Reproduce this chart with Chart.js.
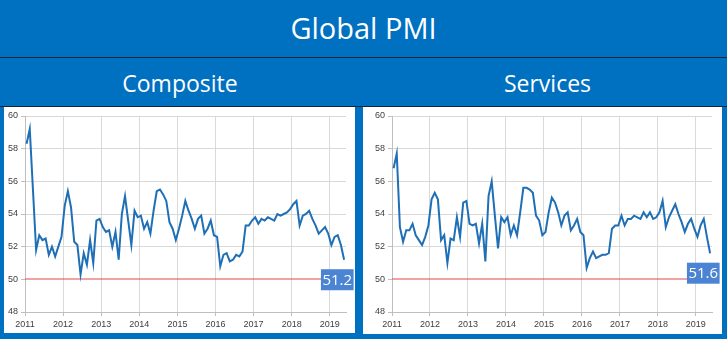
<!DOCTYPE html>
<html>
<head>
<meta charset="UTF-8">
<title>Global PMI</title>
<script src="https://cdn.jsdelivr.net/npm/chart.js"></script>
<style>
  body { margin: 0; width: 727px; height: 339px; background: #0070c0; position: relative; overflow: hidden; font-family: 'Open Sans', sans-serif; }
  .title { position: absolute; left: 0; top: 0; width: 727px; height: 57px; line-height: 56px; text-align: center; color: #fff; font-size: 29px; }
  .rule { position: absolute; left: 0; width: 727px; height: 1px; background: #15253a; }
  .sub { position: absolute; top: 64px; height: 38px; line-height: 38px; text-align: center; color: #fff; font-size: 23px; }
  .panel { position: absolute; background: #fff; }
  .panel canvas { position: absolute; left: 0; top: 0; }
</style>
</head>
<body>
<div class="title">Global PMI</div>
<div class="rule" style="top:57px"></div>
<div class="sub" style="left:4px;width:352px">Composite</div>
<div class="sub" style="left:368px;width:359px">Services</div>
<div class="rule" style="top:106px"></div>
<div class="panel" style="left:4px;top:107px;width:351px;height:226px"><canvas id="compositeChart" width="351" height="226"></canvas></div>
<div class="panel" style="left:363px;top:107px;width:359px;height:227px"><canvas id="servicesChart" width="359" height="227"></canvas></div>
<script>
// monthly readings, Jan 2011 .. May 2019
const yearLabels = ['2011', '2012', '2013', '2014', '2015', '2016', '2017', '2018', '2019'];
const yTicks = [48, 50, 52, 54, 56, 58, 60];
const refLevel = 50; // expansion / contraction line

const compositeValues = [
  58.3, 59.2, 55.5, 51.8, 52.7, 52.4, 52.5, 51.5, 52.0, 51.4, 52.0, 52.6,
  54.5, 55.4, 54.4, 52.3, 52.1, 50.3, 51.6, 50.9, 52.4, 51.0, 53.6, 53.7,
  53.2, 52.9, 53.0, 52.0, 52.9, 51.2, 54.0, 55.1, 53.6, 52.1, 54.2, 53.8,
  53.9, 53.1, 53.5, 52.8, 54.2, 55.4, 55.5, 55.2, 54.8, 53.5, 53.1, 52.4,
  53.1, 53.9, 54.8, 54.2, 53.7, 53.1, 53.7, 53.9, 52.8, 53.1, 53.6, 52.7,
  52.6, 50.8, 51.5, 51.6, 51.1, 51.2, 51.5, 51.4, 51.7, 53.3, 53.3, 53.6,
  53.8, 53.4, 53.7, 53.6, 53.8, 53.7, 53.6, 54.0, 53.9, 54.0, 54.1, 54.3,
  54.6, 54.8, 53.3, 53.9, 54.0, 54.2, 53.7, 53.3, 52.8, 53.0, 53.2, 52.8,
  52.1, 52.6, 52.7, 52.1, 51.2
];

const servicesValues = [
  56.8, 57.7, 53.2, 52.3, 53.0, 53.0, 53.4, 52.7, 52.4, 52.1, 52.6, 53.3,
  54.9, 55.3, 54.9, 52.4, 52.7, 51.0, 52.5, 52.4, 53.8, 52.6, 54.7, 54.8,
  53.4, 53.3, 53.4, 52.2, 53.4, 51.1, 55.1, 56.0, 53.9, 51.9, 53.8, 53.5,
  53.8, 52.7, 53.3, 52.7, 54.1, 55.6, 55.6, 55.5, 55.3, 53.9, 53.6, 52.7,
  52.9, 54.1, 55.0, 54.7, 54.1, 53.3, 53.9, 54.1, 53.0, 53.3, 53.7, 52.9,
  52.7, 50.7, 51.3, 51.7, 51.3, 51.4, 51.5, 51.5, 51.6, 53.1, 53.3, 53.3,
  53.9, 53.3, 53.7, 53.7, 53.9, 53.8, 53.7, 54.1, 53.8, 54.1, 53.7, 53.8,
  54.1, 54.8, 53.2, 53.8, 54.2, 54.6, 54.0, 53.5, 52.9, 53.4, 53.7, 53.1,
  52.6, 53.3, 53.7, 52.6, 51.6
];

const lineColor = '#1f6fb6';
const gridColor = '#d9d9d9';
const axisColor = '#bfbfbf';
const refLineColor = '#e04848';
const tickFont = { family: "'Liberation Sans', Arial, sans-serif", size: 9 };

// thin red line at 50, under the series (the 50 grid line is left out)
const refLine = {
  id: 'refLine',
  beforeDatasetsDraw(chart) {
    const { ctx, chartArea, scales } = chart;
    const y = Math.round(scales.y.getPixelForValue(refLevel));
    ctx.save();
    ctx.strokeStyle = refLineColor;
    ctx.lineWidth = 1.2;
    ctx.beginPath();
    ctx.moveTo(chartArea.left, y);
    ctx.lineTo(chartArea.right, y);
    ctx.stroke();
    ctx.restore();
  }
};

// blue badge with the latest reading, hung just under the last point
const lastValueBox = {
  id: 'lastValueBox',
  afterDatasetsDraw(chart) {
    const pts = chart.getDatasetMeta(0).data;
    const last = pts[pts.length - 1];
    const vals = chart.data.datasets[0].data;
    const text = vals[vals.length - 1].y.toFixed(1);
    const ctx = chart.ctx;
    ctx.save();
    ctx.font = "15px 'Open Sans', sans-serif";
    const w = ctx.measureText(text).width + 3;
    const h = 21;
    const x = last.x + 9.5 - w;
    const y = last.y + 9.5;
    ctx.fillStyle = '#4a84d2';
    ctx.fillRect(x, y, w, h);
    ctx.fillStyle = '#ffffff';
    ctx.textAlign = 'center';
    ctx.textBaseline = 'middle';
    ctx.fillText(text, x + w / 2, y + h / 2 + 1);
    ctx.restore();
  }
};

function makeChart(id, values, yAxisWidth, xAxisHeight, padRight) {
  return new Chart(document.getElementById(id), {
    type: 'line',
    data: {
      datasets: [{
        data: values.map((v, i) => ({ x: i, y: v })),
        borderColor: lineColor,
        borderWidth: 2,
        pointRadius: 0,
        tension: 0,
        fill: false
      }]
    },
    options: {
      responsive: false,
      animation: false,
      events: [],
      layout: { padding: { top: 9, right: padRight, bottom: 0, left: 0 } },
      plugins: { legend: { display: false }, tooltip: { enabled: false } },
      scales: {
        x: {
          type: 'linear',
          min: -0.5,
          max: 100.6,
          afterBuildTicks: s => { s.ticks = yearLabels.map((_, k) => ({ value: k * 12 - 0.5 })); },
          afterFit: s => { s.height = xAxisHeight; },
          ticks: {
            callback: (v, i) => yearLabels[i],
            color: '#404040', font: tickFont, maxRotation: 0, autoSkip: false, padding: 3
          },
          grid: { color: gridColor, tickColor: axisColor, tickLength: 4 },
          border: { color: axisColor }
        },
        y: {
          min: 48,
          max: 60,
          afterBuildTicks: s => { s.ticks = yTicks.map(v => ({ value: v })); },
          afterFit: s => { s.width = yAxisWidth; },
          ticks: { color: '#404040', font: tickFont, padding: 3 },
          grid: {
            color: c => (c.tick && c.tick.value === refLevel ? 'rgba(0,0,0,0)' : gridColor),
            tickColor: axisColor,
            tickLength: 4
          },
          border: { color: axisColor }
        }
      }
    },
    plugins: [refLine, lastValueBox]
  });
}

makeChart('compositeChart', compositeValues, 21, 21, 9);
makeChart('servicesChart', servicesValues, 29, 22, 10);
</script>
</body>
</html>
